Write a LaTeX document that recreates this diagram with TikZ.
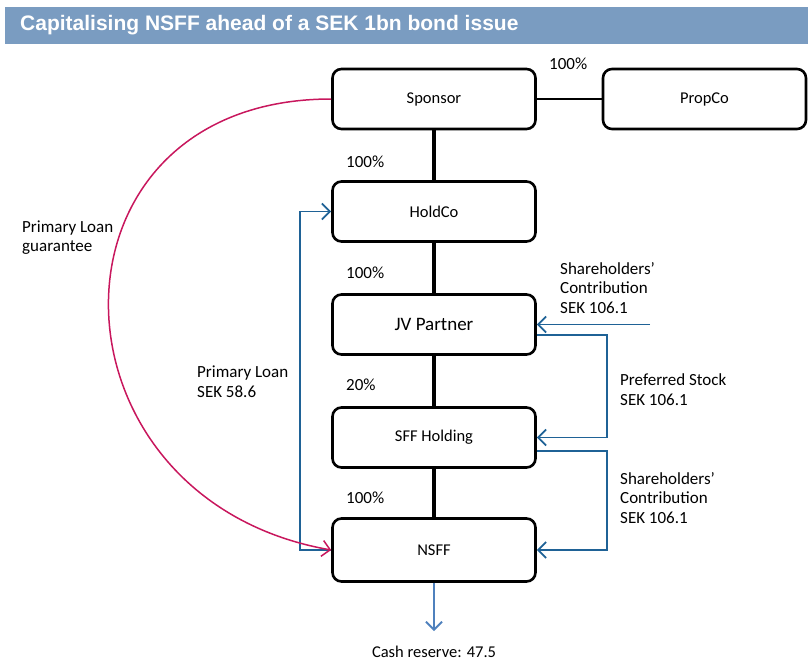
\documentclass[tikz,border=0pt]{standalone}
\usepackage{fontspec}
\setmainfont{Carlito}
\newfontfamily\titlefont{Liberation Sans}
\usetikzlibrary{arrows.meta}
\definecolor{titleblue}{HTML}{7A9CC1}
\definecolor{flowblue}{HTML}{1F6296}
\definecolor{cashblue}{HTML}{4F81BD}
\definecolor{guarred}{HTML}{C8175D}
\begin{document}
\begin{tikzpicture}
  [x=1pt,y=1pt,
   entity/.style={draw,rectangle,rounded corners=9pt,line width=2.6pt,
     minimum width=203pt,minimum height=60pt,font=\fontsize{16.5}{18}\selectfont},
   lbl/.style={align=left,anchor=west,inner sep=0pt,font=\fontsize{17}{19.5}\selectfont},
   own/.style={line width=3.5pt},
   flow/.style={draw=flowblue,line width=1.8pt,-{Straight Barb[length=8pt,width=16pt]}},
   cash/.style={draw=cashblue,line width=1.8pt,-{Straight Barb[length=8pt,width=16pt]}},
   guar/.style={draw=guarred,line width=1.5pt,-{Straight Barb[length=8pt,width=16pt]}}]
  \useasboundingbox (0,0) rectangle (808,-662);
  % title bar
  \node[fill=titleblue,inner sep=0pt,minimum width=803pt,minimum height=37pt,anchor=north west] (titlebar) at (5,-7) {};
  \node[anchor=west,inner sep=0pt,text=white,font=\titlefont\bfseries\fontsize{21}{24}\selectfont] (title) at (20,-25) {Capitalising NSFF ahead of a SEK 1bn bond issue};
  % entities
  \node[entity] (sponsor) at (434,-99) {Sponsor};
  \node[entity] (propco) at (704.5,-99) {PropCo};
  \node[entity] (holdco) at (434,-211.5) {HoldCo};
  \node[entity,font=\fontsize{19}{21}\selectfont] (jv) at (434,-324.5) {JV Partner};
  \node[entity] (sff) at (434,-437.5) {SFF Holding};
  \node[entity,minimum height=63pt] (nsff) at (434,-550) {NSFF};
  % ownership
  \foreach \from/\to in {sponsor/holdco,holdco/jv,jv/sff,sff/nsff}
    \draw[own] (\from) -- (\to);
  \draw[line width=1.2pt] (sponsor) -- (propco);
  \node[lbl] (pcprop) at (549,-64) {100\%};
  \node[lbl] (pchold) at (346,-162) {100\%};
  \node[lbl] (pcjv) at (346,-273) {100\%};
  \node[lbl] (pcsff) at (346,-385) {20\%};
  \node[lbl] (pcnsff) at (346,-498) {100\%};
  % flows
  \coordinate (loanbend) at (300,-550);
  \draw[flow] (nsff.west) -- (loanbend) |- (holdco.west);
  \coordinate (jvin) at (650,-324.5);
  \draw[flow] (jvin) -- (jv.east);
  \coordinate (prefbend) at (607,-335);
  \draw[flow] ([yshift=-10.5pt]jv.east) -- (prefbend) |- (sff.east);
  \coordinate (contbend) at (607,-451);
  \draw[flow] ([yshift=-13.5pt]sff.east) -- (contbend) |- (nsff.east);
  \coordinate (cashend) at (434,-631);
  \draw[cash] (nsff.south) -- (cashend);
  \draw[guar] (sponsor.west) to[out=180,in=170,looseness=1.7] (nsff.west);
  % labels
  \node[lbl] (guarlbl) at (22,-237.5) {Primary Loan\\guarantee};
  \node[lbl] (loanlbl) at (197,-381.5) {Primary Loan\\SEK 58.6};
  \node[lbl] (jvinlbl) at (560,-288) {Shareholders’\\Contribution\\SEK 106.1};
  \node[lbl] (preflbl) at (620,-389.5) {Preferred Stock\\SEK 106.1};
  \node[lbl] (contlbl) at (620,-498) {Shareholders’\\Contribution\\SEK 106.1};
  \node[inner sep=0pt,font=\fontsize{16.5}{18}\selectfont] (cashlbl) at (434,-651.5) {Cash reserve: 47.5};
\end{tikzpicture}
\end{document}
